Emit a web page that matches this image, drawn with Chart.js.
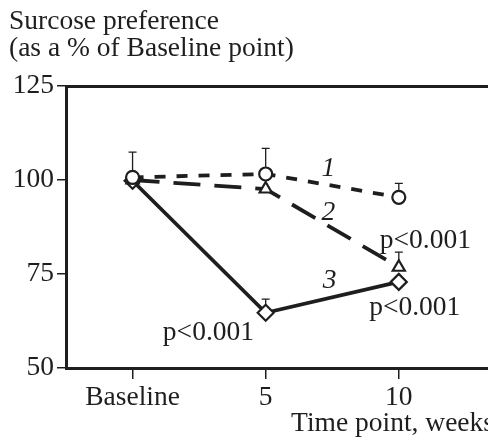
<!DOCTYPE html>
<html><head><meta charset="utf-8">
<script src="https://cdn.jsdelivr.net/npm/chart.js@4/dist/chart.umd.min.js"></script>
<style>html,body{margin:0;padding:0;background:#fff;}canvas{display:block;}</style>
</head><body>
<canvas id="c" width="488" height="439"></canvas>
<script>
const categories = ['Baseline', '5', '10'];
const xIndex = [0, 1, 2];
const yTicks = [50, 75, 100, 125];
const series1 = [100.7, 101.6, 95.4];
const series1Upper = [107.4, 108.4, 99.1];
const series2 = [100.0, 97.6, 76.8];
const series2Upper = [null, null, 80.8];
const series3 = [99.8, 64.7, 72.9];
const series3Upper = [null, 68.3, null];
const seriesNames = ['1', '2', '3'];
const pText = 'p<0.001';
const yTitle = ['Surcose preference', '(as a % of Baseline point)'];
const xTitle = 'Time point, weeks';

const INK = '#1e1e1e';
const FONT = "'Liberation Serif', 'Times New Roman', serif";
const FS = 27.5;

function pts(vals) { return xIndex.map((x, i) => ({ x: x, y: vals[i] })); }

const overlay = {
  id: 'overlay',
  beforeDatasetsDraw(chart) {
    const ctx = chart.ctx, xs = chart.scales.x, ys = chart.scales.y;
    const sets = [[series1, series1Upper], [series2, series2Upper], [series3, series3Upper]];
    ctx.save();
    ctx.strokeStyle = INK; ctx.lineWidth = 1.3;
    sets.forEach(([v, u]) => {
      u.forEach((top, j) => {
        if (top == null) return;
        const px = xs.getPixelForValue(xIndex[j]);
        const p0 = ys.getPixelForValue(v[j]);
        const p1 = ys.getPixelForValue(top);
        ctx.beginPath();
        ctx.moveTo(px, p0); ctx.lineTo(px, p1);
        ctx.moveTo(px - 4, p1); ctx.lineTo(px + 4, p1);
        ctx.stroke();
      });
    });
    ctx.restore();
  },
  afterDraw(chart) {
    const ctx = chart.ctx, xs = chart.scales.x, ys = chart.scales.y;
    ctx.save();
    ctx.fillStyle = INK;
    ctx.font = FS + 'px ' + FONT;
    ctx.textAlign = 'left'; ctx.textBaseline = 'alphabetic';
    ctx.fillText(yTitle[0], 9, 29);
    ctx.fillText(yTitle[1], 9, 56);
    ctx.textAlign = 'right';
    ctx.fillText(xTitle, 494, 431);
    ctx.font = 'italic ' + FS + 'px ' + FONT;
    ctx.textAlign = 'center'; ctx.textBaseline = 'middle';
    const nums = [[1.47, 102.9], [1.47, 91.4], [1.48, 73.1]];
    nums.forEach((p, i) => ctx.fillText(seriesNames[i], xs.getPixelForValue(p[0]), ys.getPixelForValue(p[1])));
    ctx.font = FS + 'px ' + FONT;
    const ps = [[2.2, 83.8], [2.12, 66.0], [0.57, 59.4]];
    ps.forEach(p => ctx.fillText(pText, xs.getPixelForValue(p[0]), ys.getPixelForValue(p[1])));
    ctx.restore();
  }
};

new Chart(document.getElementById('c'), {
  type: 'line',
  data: {
    datasets: [
      { label: seriesNames[0], data: pts(series1), borderColor: INK, borderWidth: 3.8, borderDash: [11, 11],
        pointStyle: 'circle', pointRadius: 6.5, pointBorderWidth: 2.2, pointBackgroundColor: '#fff', pointBorderColor: INK },
      { label: seriesNames[1], data: pts(series2), borderColor: INK, borderWidth: 3.8, borderDash: [27, 14],
        pointStyle: 'triangle', pointRadius: 7, pointBorderWidth: 2.2, pointBackgroundColor: '#fff', pointBorderColor: INK },
      { label: seriesNames[2], data: pts(series3), borderColor: INK, borderWidth: 3.8,
        pointStyle: 'rectRot', pointRadius: 8, pointBorderWidth: 2.2, pointBackgroundColor: '#fff', pointBorderColor: INK }
    ]
  },
  options: {
    responsive: false, animation: false,
    layout: { padding: 0, autoPadding: false },
    plugins: { legend: { display: false }, tooltip: { enabled: false } },
    scales: {
      x: {
        type: 'linear', position: 'bottom', min: -0.5, max: 2.67,
        afterFit(s) { s.height = 71; s.paddingLeft = 0; s.paddingRight = 0; },
        afterBuildTicks(s) { s.ticks = xIndex.map(v => ({ value: v })); },
        ticks: { color: INK, font: { family: FONT, size: FS }, padding: 2, maxRotation: 0, autoSkip: false,
          callback: (v) => categories[v] },
        grid: { display: true, drawOnChartArea: false, tickLength: 11, color: INK, lineWidth: 1.5 },
        border: { display: true, color: INK, width: 3 }
      },
      x2: {
        type: 'linear', position: 'top', min: -0.5, max: 2.67,
        afterFit(s) { s.height = 86; s.paddingLeft = 0; s.paddingRight = 0; },
        ticks: { display: false },
        grid: { display: false },
        border: { display: true, color: INK, width: 3 }
      },
      y: {
        min: 50, max: 125,
        afterFit(s) { s.width = 66; s.paddingTop = 0; s.paddingBottom = 0; },
        afterBuildTicks(s) { s.ticks = yTicks.map(v => ({ value: v })); },
        ticks: { color: INK, font: { family: FONT, size: FS }, padding: 3 },
        grid: { display: true, drawOnChartArea: false, tickLength: 9, color: INK, lineWidth: 1.5 },
        border: { display: true, color: INK, width: 3 }
      }
    }
  },
  plugins: [overlay]
});
</script>
</body></html>
